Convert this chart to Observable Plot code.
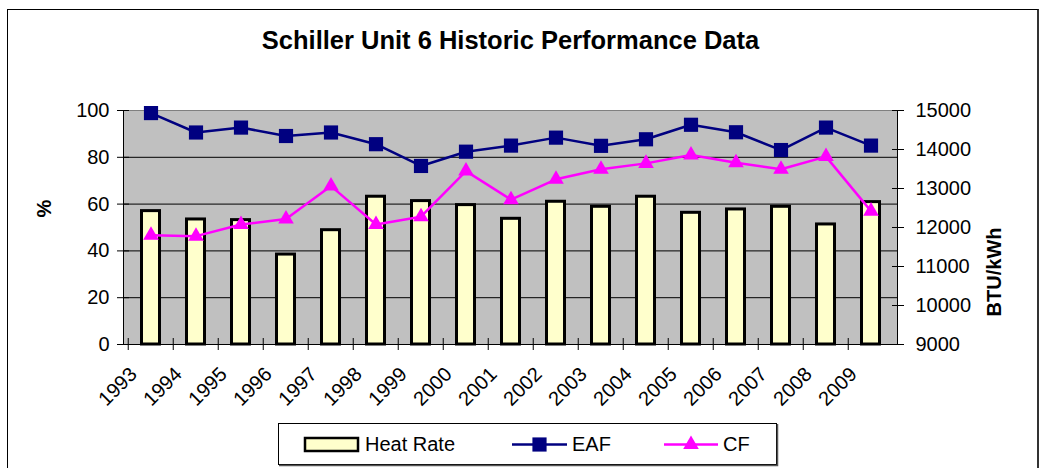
<!DOCTYPE html>
<html><head><meta charset="utf-8">
<script src="https://cdn.jsdelivr.net/npm/d3@7"></script>
<script src="https://cdn.jsdelivr.net/npm/@observablehq/plot@0.6"></script>
<style>
html,body{margin:0;padding:0;background:#fff;}
#wrap{position:relative;width:1045px;height:468px;overflow:hidden;font-family:"Liberation Sans",Arial,sans-serif;}
#border{position:absolute;left:7px;top:9px;width:1029px;height:480px;border:1px solid #000;border-right:2px solid #333;}
#title{position:absolute;left:-12px;width:1045px;top:26px;text-align:center;font-weight:bold;font-size:25.5px;line-height:28px;color:#000;}
#chart{position:absolute;left:0;top:0;}
#legend{position:absolute;left:278px;top:423px;}
</style></head>
<body>
<div id="wrap">
  <div id="border"></div>
  <div id="title">Schiller Unit 6 Historic Performance Data</div>
  <div id="chart"></div>
  <div id="legend"></div>
</div>
<script>
const years = ["1993","1994","1995","1996","1997","1998","1999","2000","2001","2002","2003","2004","2005","2006","2007","2008","2009"];
const heatRate = [12420,12206,12189,11306,11931,12789,12677,12574,12223,12660,12531,12789,12377,12463,12531,12078,12651];
const eaf = [98.9,90.6,92.7,89.1,90.6,85.6,76.3,82.4,85.0,88.4,84.9,87.7,93.9,90.7,83.1,92.7,85.0];
const cf = [46.7,46.3,51.3,53.6,67.7,51.3,54.6,74.1,61.9,70.6,74.9,77.4,81.0,77.7,74.9,80.3,57.0];
const pctTicks = [0,20,40,60,80,100];
const hrTicks = [9000,10000,11000,12000,13000,14000,15000];
const seriesNames = ["Heat Rate","EAF","CF"];

// secondary axis 9000..15000 BTU/kWh shares the 0..100 % range
const hrMin = 9000, hrMax = 15000;
const hrToPct = v => (v - hrMin) / (hrMax - hrMin) * 100;
const pctToHr = p => Math.round(hrMin + p / 100 * (hrMax - hrMin));

const rows = years.map((year, i) => ({year, hr: heatRate[i], eaf: eaf[i], cf: cf[i]}));

const W = 1045, H = 468, mL = 123, mR = 148, mT = 110, mB = 124;
const bw = (W - mL - mR) / years.length;
const FONT = '"Liberation Sans", Arial, sans-serif';

const plot = Plot.plot({
  width: W, height: H,
  marginLeft: mL, marginRight: mR, marginTop: mT, marginBottom: mB,
  style: {fontFamily: FONT, fontSize: "20px", color: "#000", background: "transparent", overflow: "visible"},
  x: {type: "band", domain: years, padding: 0, axis: null},
  y: {domain: [0, 100], axis: null},
  marks: [
    Plot.frame({fill: "#C0C0C0", stroke: "#808080"}),
    Plot.gridY(pctTicks.slice(1, -1), {stroke: "#000", strokeOpacity: 1, strokeWidth: 1}),
    Plot.barY(rows, {x: "year", y: d => hrToPct(d.hr), fill: "#FFFFCC", stroke: "#000", strokeWidth: 3, insetLeft: 13.5, insetRight: 13.5}),
    Plot.line(rows, {x: "year", y: "eaf", stroke: "#000080", strokeWidth: 2.5}),
    Plot.dot(rows, {x: "year", y: "eaf", symbol: "square", r: 8, fill: "#000080", stroke: "none"}),
    Plot.line(rows, {x: "year", y: "cf", stroke: "#FF00FF", strokeWidth: 2.5}),
    Plot.dot(rows, {x: "year", y: "cf", symbol: "triangle", r: 5.8, fill: "#FF00FF", stroke: "none"}),
    Plot.frame({anchor: "left", stroke: "#000"}),
    Plot.frame({anchor: "right", stroke: "#000"}),
    Plot.frame({anchor: "bottom", stroke: "#000"}),
    Plot.axisY(pctTicks, {anchor: "left", tickSize: 12, dx: 6, tickFormat: () => "", label: null}),
    Plot.axisY(pctTicks, {anchor: "left", tickSize: 0, tickPadding: 14, label: null, fontSize: 20}),
    Plot.axisY(hrTicks.map(hrToPct), {anchor: "right", tickSize: 12, dx: -6, tickFormat: () => "", label: null}),
    Plot.axisY(hrTicks.map(hrToPct), {anchor: "right", tickSize: 0, tickPadding: 18, tickFormat: d => String(pctToHr(d)), label: null, fontSize: 20}),
    Plot.axisX(years, {anchor: "bottom", tickSize: 12, dy: -6, dx: -bw / 2, tickFormat: () => "", label: null}),
    Plot.text(years, {x: d => d, frameAnchor: "bottom", rotate: -45, textAnchor: "end", dx: -13, dy: 31, fontSize: 20, fill: "#000"}),
    Plot.text(["%"], {frameAnchor: "left", dx: -79, dy: -10, rotate: -90, fontWeight: "bold", fontSize: 20, fill: "#000"}),
    Plot.text(["BTU/kWh"], {frameAnchor: "right", dx: 97, rotate: -90, fontWeight: "bold", fontSize: 20, fill: "#000"})
  ]
});
document.getElementById("chart").appendChild(plot);

// legend
const lg = d3.select("#legend").append("svg").attr("width", 502).attr("height", 45)
  .style("font-family", FONT).style("font-size", "20px");
lg.append("rect").attr("x", 0.5).attr("y", 0.5).attr("width", 498).attr("height", 41)
  .attr("fill", "#fff").attr("stroke", "#000");
lg.append("path").attr("d", "M499.5,1V42.5H1").attr("fill", "none").attr("stroke", "#555").attr("stroke-width", 1.5);
lg.append("rect").attr("x", 27).attr("y", 15).attr("width", 53).attr("height", 13)
  .attr("fill", "#FFFFCC").attr("stroke", "#000").attr("stroke-width", 2.5);
lg.append("text").attr("x", 87).attr("y", 28).text(seriesNames[0]);
lg.append("line").attr("x1", 234).attr("x2", 289).attr("y1", 21.5).attr("y2", 21.5).attr("stroke", "#000080").attr("stroke-width", 2.5);
lg.append("path").attr("transform", "translate(261.5,21.5)").attr("d", d3.symbol(d3.symbolSquare, 8 * 8 * Math.PI)()).attr("fill", "#000080");
lg.append("text").attr("x", 294).attr("y", 28).text(seriesNames[1]);
lg.append("line").attr("x1", 386).attr("x2", 440).attr("y1", 21.5).attr("y2", 21.5).attr("stroke", "#FF00FF").attr("stroke-width", 2.5);
lg.append("path").attr("transform", "translate(413,21.5)").attr("d", d3.symbol(d3.symbolTriangle, 5.8 * 5.8 * Math.PI)()).attr("fill", "#FF00FF");
lg.append("text").attr("x", 445).attr("y", 28).text(seriesNames[2]);
</script>
</body></html>
